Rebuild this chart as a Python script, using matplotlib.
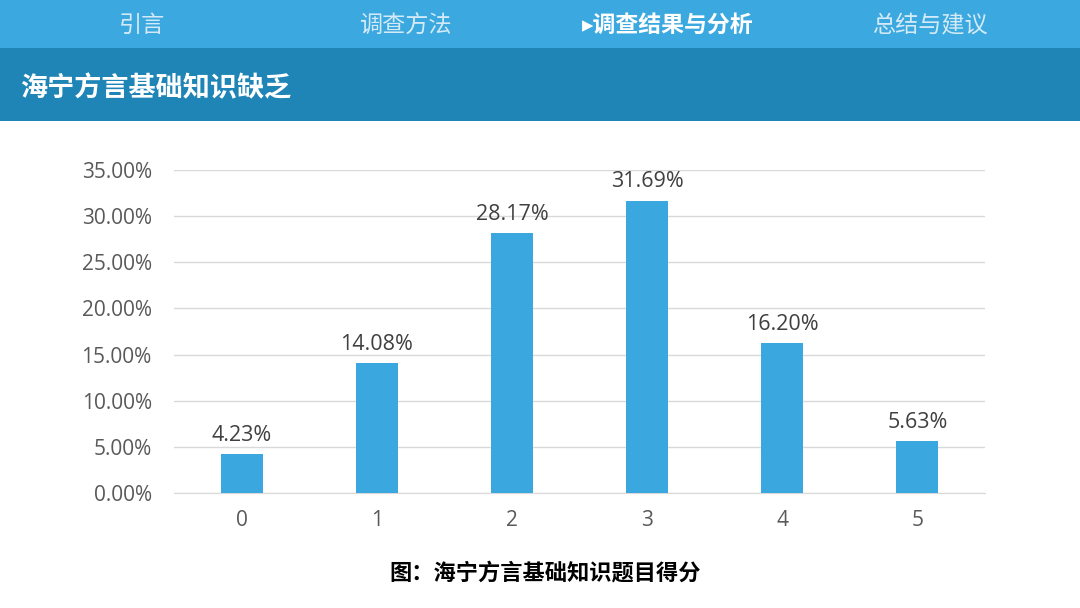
import matplotlib.pyplot as plt
from matplotlib.patches import Rectangle

plt.rcParams['font.family'] = ['Noto Sans CJK SC', 'DejaVu Sans']

scores = ['0', '1', '2', '3', '4', '5']
shares = [4.23, 14.08, 28.17, 31.69, 16.20, 5.63]
yticks = [0, 5, 10, 15, 20, 25, 30, 35]
nav_items = ['引言', '调查方法', '▸调查结果与分析', '总结与建议']
nav_x = [142, 405, 668, 930]
active = 2

fig = plt.figure(figsize=(10.8, 6.08), dpi=100)
fig.patch.set_facecolor('white')

# header bands
fig.patches.append(Rectangle((0, 1 - 48 / 608), 1, 48 / 608, transform=fig.transFigure,
                             facecolor='#3BA8E0', edgecolor='none', zorder=0))
fig.patches.append(Rectangle((0, 1 - 121 / 608), 1, 73 / 608, transform=fig.transFigure,
                             facecolor='#1F84B6', edgecolor='none', zorder=0))

for i, (name, x) in enumerate(zip(nav_items, nav_x)):
    if i == active:
        fig.text(x / 1080, 1 - 25 / 608, name, ha='center', va='center', fontsize=16.5,
                 color='white', fontweight='bold', family=['Noto Sans CJK SC', 'DejaVu Sans'])
    else:
        fig.text(x / 1080, 1 - 25 / 608, name, ha='center', va='center', fontsize=16.7,
                 color='#D4EBF7')

fig.text(20 / 1080, 1 - 88 / 608, '海宁方言基础知识缺乏', ha='left', va='center', fontsize=19.5,
         color='white', fontweight='bold')

ax = fig.add_axes([174 / 1080, 115 / 608, 811 / 1080, 323 / 608])
x = range(len(scores))
bars = ax.bar(x, shares, width=0.31, color='#3AA8DF', zorder=3)
for b, v in zip(bars, shares):
    ax.text(b.get_x() + b.get_width() / 2, v + 0.9, f'{v:.2f}%', ha='center', va='bottom',
            fontsize=15.5, color='#404040', family='Open Sans')

ax.set_xlim(-0.5, len(scores) - 0.5)
ax.set_ylim(0, 35)
ax.set_yticks(yticks)
ax.set_yticklabels([f'{t:.2f}%' for t in yticks], family='Open Sans', fontsize=15, color='#595959')
ax.set_xticks(list(x))
ax.set_xticklabels(scores, family='Open Sans', fontsize=15, color='#595959')
ax.tick_params(length=0, pad=12)
ax.tick_params(axis='y', pad=16)
ax.grid(axis='y', color='#D9D9D9', linewidth=1, zorder=0)
for s in ['top', 'right', 'left']:
    ax.spines[s].set_visible(False)
ax.spines['bottom'].set_color('#D9D9D9')
ax.spines['bottom'].set_zorder(1)

fig.text(545 / 1080, 1 - 573 / 608, '图：海宁方言基础知识题目得分', ha='center', va='center',
         fontsize=16, color='black', fontweight='bold')

fig.savefig('out.png', dpi=100)
